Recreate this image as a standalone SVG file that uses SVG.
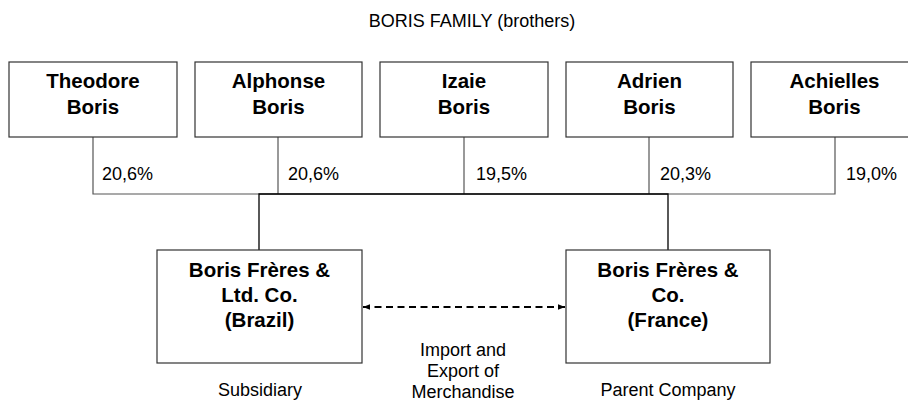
<svg xmlns="http://www.w3.org/2000/svg" width="908" height="401" viewBox="0 0 908 401">
<style>
.box{fill:#fff;stroke:#333;stroke-width:1.2}
.name{font-family:"Liberation Sans",Arial,sans-serif;font-weight:bold;font-size:20.5px;fill:#000;text-anchor:middle}
.lbl{font-family:"Liberation Sans",Arial,sans-serif;font-size:18px;fill:#000}
.ctr{text-anchor:middle}
.gline{fill:none;stroke:#555;stroke-width:1.2}
.bline{fill:none;stroke:#000;stroke-width:1.3}
.dash{fill:none;stroke:#000;stroke-width:2;stroke-dasharray:7 4.5}
</style>
<defs>
<marker id="ah" viewBox="0 0 8 8" refX="8" refY="4" markerWidth="7" markerHeight="7" markerUnits="userSpaceOnUse" orient="auto-start-reverse">
<path d="M0,0.8 L8,4 L0,7.2 Z" fill="#000"/>
</marker>
</defs>
<rect width="908" height="401" fill="#fff"/>
<text class="lbl ctr" x="472" y="27">BORIS FAMILY (brothers)</text>

<g id="connectors">
<path class="gline" d="M93,137 V194 H835 V137"/>
<path class="gline" d="M278,137 V194"/>
<path class="gline" d="M464,137 V194"/>
<path class="gline" d="M649,137 V194"/>
<path class="bline" d="M259,250 V194 H668 V250"/>
<line class="dash" x1="363" y1="307" x2="565" y2="307" marker-start="url(#ah)" marker-end="url(#ah)"/>
<text class="lbl" x="102" y="180">20,6%</text>
<text class="lbl" x="288" y="180">20,6%</text>
<text class="lbl" x="476" y="180">19,5%</text>
<text class="lbl" x="660" y="180">20,3%</text>
<text class="lbl" x="846" y="180">19,0%</text>
<text class="lbl ctr" x="463" y="356">Import and</text>
<text class="lbl ctr" x="463" y="377">Export of</text>
<text class="lbl ctr" x="463" y="398">Merchandise</text>
</g>

<g id="theodore">
<rect class="box" x="9" y="62" width="168" height="75"/>
<text class="name" x="93" y="88">Theodore</text>
<text class="name" x="93" y="114">Boris</text>
</g>
<g id="alphonse">
<rect class="box" x="195" y="62" width="167" height="75"/>
<text class="name" x="278.5" y="88">Alphonse</text>
<text class="name" x="278.5" y="114">Boris</text>
</g>
<g id="izaie">
<rect class="box" x="380" y="62" width="168" height="75"/>
<text class="name" x="464" y="88">Izaie</text>
<text class="name" x="464" y="114">Boris</text>
</g>
<g id="adrien">
<rect class="box" x="566" y="62" width="167" height="75"/>
<text class="name" x="649.5" y="88">Adrien</text>
<text class="name" x="649.5" y="114">Boris</text>
</g>
<g id="achielles">
<rect class="box" x="751" y="62" width="168" height="75"/>
<text class="name" x="834.5" y="88">Achielles</text>
<text class="name" x="834.5" y="114">Boris</text>
</g>

<g id="brazil">
<rect class="box" x="157" y="250" width="205" height="113"/>
<text class="name" x="259.5" y="277">Boris Frères &amp;</text>
<text class="name" x="259.5" y="302">Ltd. Co.</text>
<text class="name" x="259.5" y="327">(Brazil)</text>
<text class="lbl ctr" x="260" y="396">Subsidiary</text>
</g>
<g id="france">
<rect class="box" x="566" y="250" width="204" height="113"/>
<text class="name" x="668" y="277">Boris Frères &amp;</text>
<text class="name" x="668" y="302">Co.</text>
<text class="name" x="668" y="327">(France)</text>
<text class="lbl ctr" x="668" y="396">Parent Company</text>
</g>
</svg>
